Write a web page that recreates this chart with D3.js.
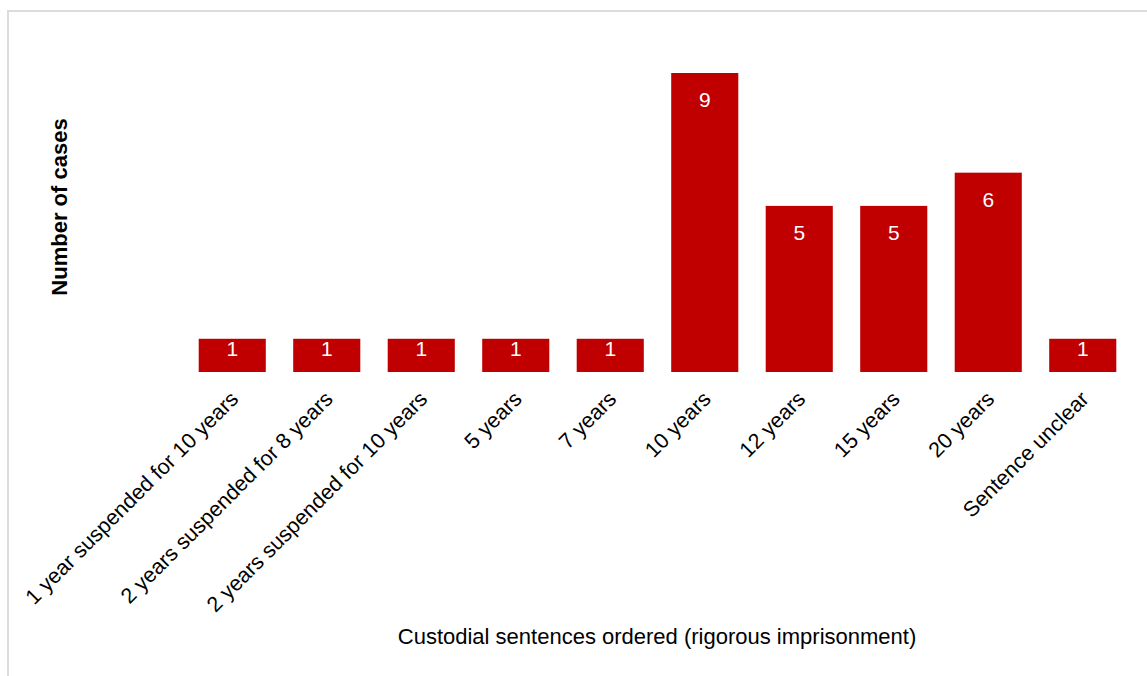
<!DOCTYPE html>
<html>
<head>
<meta charset="utf-8">
<script src="https://cdn.jsdelivr.net/npm/d3@7"></script>
<style>
  body { margin: 0; background: #fff; }
  svg { display: block; font-family: "Liberation Sans", Arial, sans-serif; }
</style>
</head>
<body>
<svg width="1147" height="676"></svg>
<script>
const categories = ['1 year suspended for 10 years', '2 years suspended for 8 years',
  '2 years suspended for 10 years', '5 years', '7 years', '10 years', '12 years',
  '15 years', '20 years', 'Sentence unclear'];
const cases = [1, 1, 1, 1, 1, 9, 5, 5, 6, 1];

const svg = d3.select('svg');
const width = +svg.attr('width');
const height = +svg.attr('height');

// frame (runs off the right and bottom edges)
svg.append('rect')
  .attr('x', 8).attr('y', 11)
  .attr('width', width + 20).attr('height', height + 20)
  .attr('fill', 'none')
  .attr('stroke', '#dcdcdc')
  .attr('stroke-width', 2);

const x = d3.scaleBand()
  .domain(categories)
  .range([185, 1130])
  .paddingInner(0.29)
  .paddingOuter(0.145);

const y = d3.scaleLinear()
  .domain([0, 9])
  .range([372, 73]);

const data = categories.map((c, i) => ({ cat: c, n: cases[i] }));

svg.selectAll('.bar')
  .data(data).enter()
  .append('rect')
  .attr('class', 'bar')
  .attr('x', d => x(d.cat))
  .attr('y', d => y(d.n))
  .attr('width', x.bandwidth())
  .attr('height', d => y(0) - y(d.n))
  .attr('fill', '#c00000');

// value labels inside the bars
svg.selectAll('.val')
  .data(data).enter()
  .append('text')
  .attr('class', 'val')
  .attr('x', d => x(d.cat) + x.bandwidth() / 2)
  .attr('y', d => Math.min(y(d.n) + 34, y(0) - 16))
  .attr('text-anchor', 'middle')
  .attr('fill', '#fff')
  .style('font-size', '21px')
  .text(d => d.n);

// rotated category labels
svg.selectAll('.tick-label')
  .data(categories).enter()
  .append('text')
  .attr('class', 'tick-label')
  .attr('transform', d => `translate(${x(d) + x.bandwidth() / 2 + 2},${395}) rotate(-45)`)
  .attr('text-anchor', 'end')
  .attr('dy', '0.35em')
  .attr('fill', '#000')
  .style('font-size', '21.5px')
  .text(d => d);

// axis titles
svg.append('text')
  .attr('x', 657)
  .attr('y', 644)
  .attr('text-anchor', 'middle')
  .style('font-size', '22px')
  .attr('fill', '#000')
  .text('Custodial sentences ordered (rigorous imprisonment)');

svg.append('text')
  .attr('transform', 'translate(67,207) rotate(-90)')
  .attr('text-anchor', 'middle')
  .style('font-size', '22px')
  .style('font-weight', 'bold')
  .attr('fill', '#000')
  .text('Number of cases');
</script>
</body>
</html>
